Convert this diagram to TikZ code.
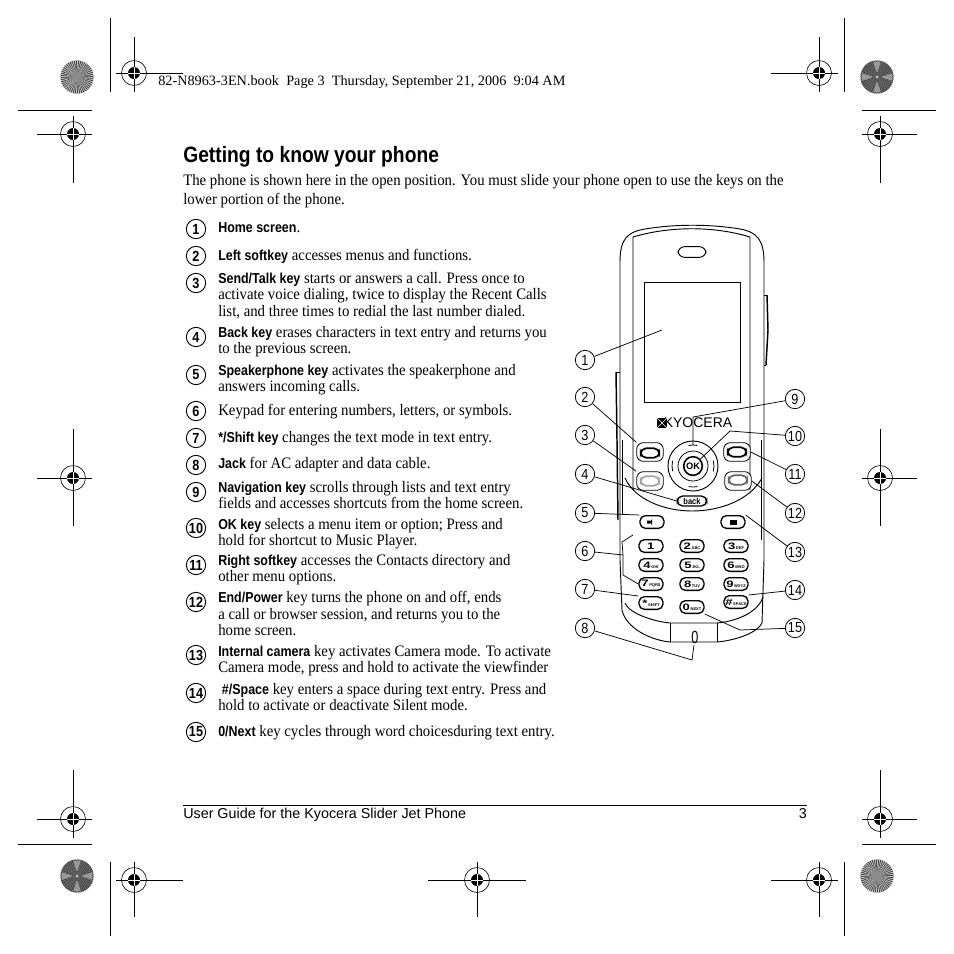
\documentclass[tikz,border=0pt]{standalone}
\usepackage{fontspec}
\setmainfont[FakeStretch=0.925]{Liberation Serif}
\setsansfont{Liberation Sans}
\newfontfamily\keyfont[FakeStretch=0.865]{Liberation Sans}
\newfontfamily\headfont{Liberation Serif}
\newfontfamily\digitfont[FakeStretch=1.4]{Liberation Sans}
\newcommand{\kname}[1]{{\keyfont\bfseries\fontsize{10.8}{12}\selectfont #1}}
\usetikzlibrary{positioning,calc}
\tikzset{
  callout/.style={draw,circle,line width=0.6pt,fill=white,minimum size=14.5pt,inner sep=0pt,font=\keyfont\fontsize{11}{12}\selectfont},
  listnum/.style={draw,circle,line width=0.7pt,minimum size=14.5pt,inner sep=0pt,font=\keyfont\bfseries\fontsize{11}{12}\selectfont},
  itemtext/.style={anchor=north west,inner sep=0pt,align=left,font=\fontsize{12}{12.4}\selectfont},
  lead/.style={line width=0.55pt},
  body/.style={line width=0.7pt},
  padkey/.style={draw,fill=white,rounded corners=4pt,line width=1pt,minimum width=18pt,minimum height=9.5pt,inner sep=0pt,font=\sffamily\bfseries\fontsize{3}{4}\selectfont},
  softkey/.style={draw,rounded corners=4pt,line width=1.3pt,minimum width=14pt,minimum height=7pt,inner sep=0pt},
  greykey/.style={softkey,draw=black!35},
  darkkey/.style={softkey,draw=black!60},
  keyframe/.style={draw,fill=white,line width=0.6pt,rounded corners=5pt,minimum width=20pt,minimum height=14pt,inner sep=0pt}
}
\newcommand{\regmark}[6]{% x, y, h from, h length, v from, v length
  \draw[line width=0.6pt] (#1+#3,#2) -- ++(#4,0);
  \draw[line width=0.6pt] (#1,#2+#5) -- ++(0,#6);
  \draw[line width=0.45pt] (#1,#2) circle (12.5);
  \fill (#1,#2) circle (6);
  \draw[white,line width=0.5pt] (#1-6,#2) -- (#1+6,#2) (#1,#2-6) -- (#1,#2+6);
}
\newcommand{\burst}[4]{% x, y, base shade, wedge shade
  \fill[black!#3] (#1,#2) circle (16.5);
  \foreach \a in {0,7.5,...,352.5}
    \fill[black!#4] (#1,#2) -- ($(#1,#2)+(\a:16.5)$) arc (\a:\a+3.75:16.5) -- cycle;
}
\newcommand{\darkarms}[2]{% x, y
  \foreach \a in {0,90,180,270}
    \fill[black!40] ($(#1,#2)+(\a-5:5)$) -- ($(#1,#2)+(\a-14:15.5)$) arc (\a-14:\a+14:15.5) -- ($(#1,#2)+(\a+5:5)$) -- cycle;
  \fill[white] (#1,#2) circle (1);
}
\begin{document}
\begin{tikzpicture}[x=0.75pt,y=-0.75pt]
\useasboundingbox (0,0) rectangle (954,954);
\fill[white] (0,0) rectangle (954,954);
% printer marks
\regmark{134}{73}{-18}{67}{-36}{55}
\regmark{819}{73}{-48}{67}{-36}{55}
\regmark{134}{880}{-18}{67}{-18}{55}
\regmark{477}{880}{-49}{98}{-18}{55}
\regmark{819}{880}{-48}{67}{-18}{55}
\regmark{73}{134}{-36}{55}{-18}{67}
\regmark{880}{134}{-18}{55}{-18}{67}
\regmark{73}{478}{-36}{55}{-49}{97}
\regmark{880}{478}{-18}{55}{-49}{97}
\regmark{73}{819}{-36}{55}{-49}{68}
\regmark{880}{819}{-18}{55}{-49}{68}
\draw[line width=0.6pt] (110,18) -- (110,92) (110,862) -- (110,936) (844,18) -- (844,92) (844,862) -- (844,936);
\draw[line width=0.6pt] (18,110) -- (92,110) (18,844) -- (92,844) (862,110) -- (936,110) (862,844) -- (936,844);
\burst{77}{77}{80}{25}
\burst{877}{77}{80}{55}
\burst{77}{876}{80}{55}
\burst{877}{876}{80}{25}
\fill[black!45] (77,77) circle (5) (877,876) circle (5);
\darkarms{877}{77}
\darkarms{77}{876}
\node[anchor=base west,inner sep=0pt,font=\headfont\fontsize{10.7}{12}\selectfont] (header) at (158,85) {82-N8963-3EN.book\ \ Page 3\ \ Thursday, September 21, 2006\ \ 9:04 AM};
% page text
\node[anchor=base west,inner sep=0pt,font=\keyfont\bfseries\fontsize{16.7}{18}\selectfont] (title) at (183,162) {Getting to know your phone};
\node[itemtext,font=\fontsize{12}{14.3}\selectfont] (intro) at (183,174) {The phone is shown here in the open position. You must slide your phone open to use the keys on the\\lower portion of the phone.};
\foreach \n/\y in {1/229,2/256,3/283,4/337,5/375,6/411,7/438,8/465,9/492,10/528,11/565,12/602,13/655,14/693,15/732}
  \node[listnum] (num\n) at (196,\y) {\n};
\node[itemtext] (item1) at (218,222) {\kname{Home screen}.};
\node[itemtext] (item2) at (218,249) {\kname{Left softkey} accesses menus and functions.};
\node[itemtext] (item3) at (218,272) {\kname{Send/Talk key} starts or answers a call. Press once to\\activate voice dialing, twice to display the Recent Calls\\list, and three times to redial the last number dialed.};
\node[itemtext] (item4) at (218,326) {\kname{Back key} erases characters in text entry and returns you\\to the previous screen.};
\node[itemtext] (item5) at (218,364) {\kname{Speakerphone key} activates the speakerphone and\\answers incoming calls.};
\node[itemtext] (item6) at (218,404) {Keypad for entering numbers, letters, or symbols.};
\node[itemtext] (item7) at (218,431) {\kname{*/Shift key} changes the text mode in text entry.};
\node[itemtext] (item8) at (218,457) {\kname{Jack} for AC adapter and data cable.};
\node[itemtext] (item9) at (218,481) {\kname{Navigation key} scrolls through lists and text entry\\fields and accesses shortcuts from the home screen.};
\node[itemtext] (item10) at (218,518) {\kname{OK key} selects a menu item or option; Press and\\hold for shortcut to Music Player.};
\node[itemtext] (item11) at (218,554) {\kname{Right softkey} accesses the Contacts directory and\\other menu options.};
\node[itemtext] (item12) at (218,591) {\kname{End/Power} key turns the phone on and off, ends\\a call or browser session, and returns you to the\\home screen.};
\node[itemtext] (item13) at (218,645) {\kname{Internal camera} key activates Camera mode. To activate\\Camera mode, press and hold to activate the viewfinder};
\node[itemtext] (item14) at (218,683) {\ \kname{\#/Space} key enters a space during text entry. Press and\\hold to activate or deactivate Silent mode.};
\node[itemtext] (item15) at (218,725) {\kname{0/Next} key cycles through word choicesduring text entry.};
% footer
\draw[line width=0.6pt] (183,805) -- (807,805);
\node[anchor=base west,inner sep=0pt,font=\sffamily\fontsize{10.75}{12}\selectfont] (footer) at (183,818) {User Guide for the Kyocera Slider Jet Phone};
\node[anchor=base east,inner sep=0pt,font=\sffamily\fontsize{10.75}{12}\selectfont] (pageno) at (807,818) {3};
% phone body
\draw[body] (622,610) -- (620,560) -- (620,262) .. controls (620,238) and (628,232) .. (645,229) .. controls (675,224) and (710,224) .. (740,229) .. controls (757,232) and (764,240) .. (764,262) -- (764,560) -- (762,623);
\draw[body] (633,490) -- (633,237) .. controls (670,226) and (714,226) .. (750,237) -- (750,490);
\draw[body] (625,478) .. controls (635,500) and (665,511) .. (692,511) .. controls (720,511) and (750,500) .. (762,478);
\draw[body] (625,603) .. controls (628,612) and (650,621) .. (670,623) -- (717,623) .. controls (738,621) and (758,612) .. (763,597);
\draw[body] (622,610) .. controls (626,628) and (650,640) .. (670,642) -- (717,642) .. controls (738,640) and (758,632) .. (762,623);
\draw[body] (670,623) -- (670,642) (717,623) -- (717,642);
\draw[line width=1.1pt] (616,372) -- (617,440) -- (618,520) (767,295) -- (768,330) -- (766,365);
\draw[body] (620,372) -- (616,372) (764,295) -- (767,295) (764,365) -- (766,365);
\draw[body] (622,440) -- (622,515) (761,440) -- (761,540);
\node[draw,line width=0.7pt,rounded corners=5pt,minimum width=21pt,minimum height=8pt,inner sep=0pt] (earpiece) at (692,252) {};
\node[draw,line width=0.7pt,minimum width=71.5pt,minimum height=90pt,inner sep=0pt] (screen) at (692.5,342) {};
\node[inner sep=0pt,font=\sffamily\fontsize{10.5}{12}\selectfont] (logo) at (698,423) {KYOCERA};
\fill (657,418) rectangle (667,428);
\draw[white,line width=0.5pt] (657,418) -- (667,428) (657,428) -- (667,418);
% navigation ring
\node[draw,circle,line width=0.7pt,minimum size=37.5pt,inner sep=0pt] (navring) at (693,466) {};
\node[draw,circle,line width=0.6pt,minimum size=22.5pt,inner sep=0pt] (navinner) at (693,466) {};
\node[draw,circle,line width=1.2pt,minimum size=14pt,inner sep=0pt,font=\sffamily\bfseries\fontsize{7}{8}\selectfont] (okkey) at (693,466) {OK};
\foreach \a in {0,180}
  \draw[line width=0.6pt] ($(693,466)+(\a-15:21)$) arc (\a-15:\a+15:21);
\foreach \a in {90,270}
  \draw[line width=0.6pt] ($(693,466)+(\a-12:21)$) arc (\a-12:\a+12:21);
% soft keys
\node[keyframe] (frameL) at (650,452) {};
\node[keyframe] (frameS) at (650,481) {};
\node[keyframe] (frameR) at (737,452) {};
\node[keyframe] (frameE) at (738,481) {};
\node[softkey] (leftkey) at (650,453) {};
\node[greykey] (sendkey) at (650,481) {};
\node[softkey] (rightkey) at (737,452) {};
\node[darkkey] (endkey) at (738,480) {};
\node[padkey,minimum width=22pt,minimum height=7.5pt,font=\keyfont\bfseries\fontsize{6.5}{7}\selectfont] (backkey) at (692,501) {back};
\node[padkey] (speakerkey) at (652,522) {};
\fill (649,522) +(-2,-1.5) rectangle +(1,1.5) +(1,0) -- +(3,-3) -- +(3,3) -- cycle;
\node[padkey] (camerakey) at (733,522) {};
\fill (730,520) rectangle (737,525);
% keypad
\foreach \nm/\x/\y/\bigch/\smallch in {k1/651/546/1/,k2/692/546/2/ABC,k3/736/546/3/DEF,k4/651/565/4/GHI,k5/692/565/5/JKL,k6/736/565/6/MNO,k7/651/584/7/PQRS,k8/692/584/8/TUV,k9/736/584/9/WXYZ,kstar/651/603/*/SHIFT,k0/692/607/0/NEXT,khash/736/602/\#/SPACE}
  \node[padkey] (\nm) at (\x,\y) {{\digitfont\bfseries\fontsize{7}{8}\selectfont\bigch}\,\smallch};
% connectors
\foreach \n/\x/\y in {1/585/360,2/585/397,3/585/435,4/585/474,5/585/513,6/585/551,7/585/589,8/585/628,9/795/399,10/795/436,11/795/474,12/795/513,13/795/552,14/795/590,15/795/628}
  \node[callout] (c\n) at (\x,\y) {\n};
\coordinate (pscreen) at (662,330);
\coordinate (pjack) at (692,660);
\coordinate (pjacktop) at (694,645);
\coordinate (pnine) at (693,417);
\coordinate (pninelow) at (693,445);
\coordinate (pten) at (730,431);
\coordinate (pfifteen) at (740,630);
\coordinate (psix) at (623,555);
\coordinate (psixa) at (622,542);
\coordinate (psixb) at (633,535);
\coordinate (psixc) at (623,575);
\draw[lead] (c1) -- (pscreen);
\draw[lead] (c2) -- (frameL.north west);
\draw[lead] (c3) -- (frameS.north west);
\draw[lead] (c4) -- (backkey.west);
\draw[lead] (c5) -- (speakerkey.north west);
\draw[lead] (c6) -- (psix);
\draw[lead] (psixb) -- (psixa) -- (psix) -- (psixc) -- (k7.west);
\draw[lead] (c7) -- (kstar.north west);
\draw[lead] (c8) -- (pjack) -- (pjacktop);
\draw[lead] (c9) -- (pnine) -- (pninelow);
\draw[lead] (c10) -- (pten) -- (okkey);
\draw[lead] (c11) -- (frameR.east);
\draw[lead] (c12) -- (frameE.east);
\draw[lead] (c13) -- (camerakey.north east);
\draw[lead] (c14) -- (khash.north east);
\draw[lead] (c15) -- (pfifteen) -- (k0.south east);
\node[inner sep=0pt,font=\keyfont\fontsize{11}{12}\selectfont,yscale=1.2] (jackmark) at (695,637) {0};
\end{tikzpicture}
\end{document}
